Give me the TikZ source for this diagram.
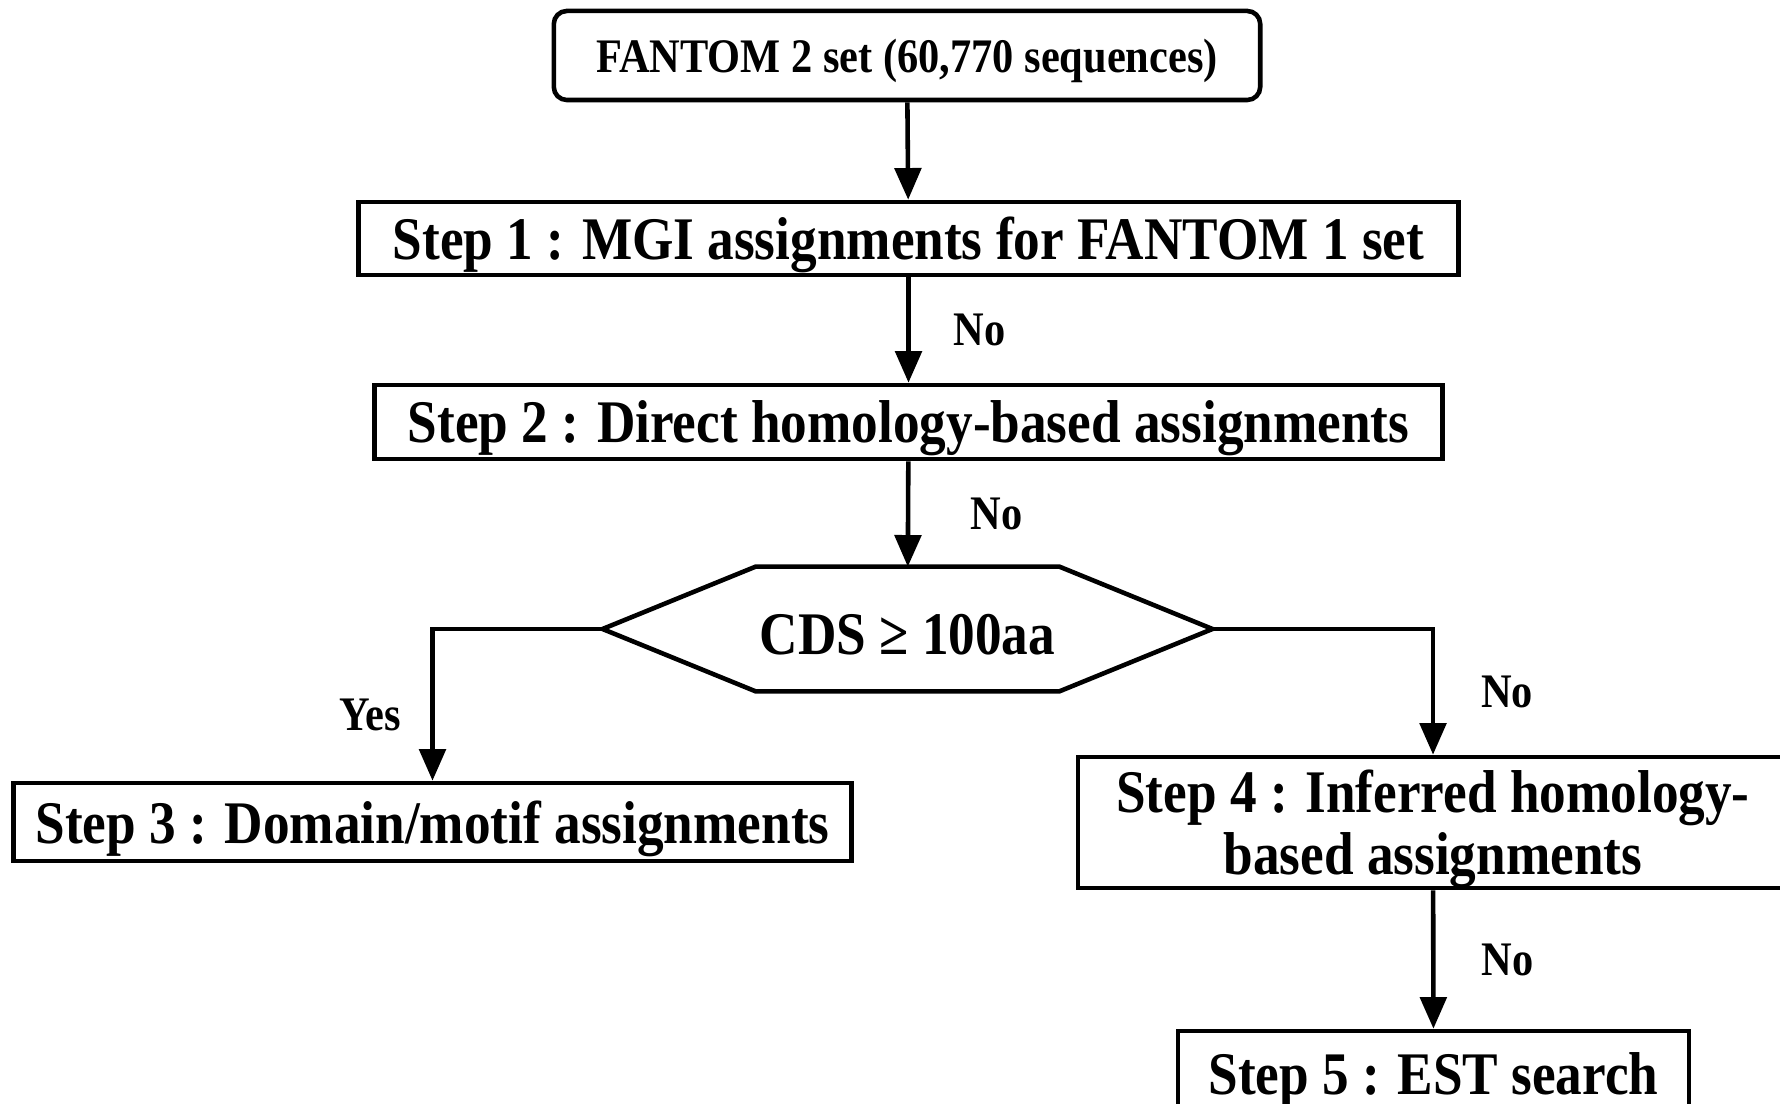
\documentclass[tikz,border=0pt]{standalone}
\usepackage{fontspec}
\setmainfont{Liberation Serif}[FakeStretch=0.88]
\usepackage{tikz}
\usetikzlibrary{arrows.meta}
\usetikzlibrary{calc,positioning}
\newcommand{\bigtext}{\fontsize{17.2}{17.6}\selectfont\bfseries}
\newcommand{\smalltext}{\fontsize{13.7}{15}\selectfont\bfseries}
\tikzset{%
  >={Triangle[width=7.5pt,length=9pt]},
  % Specifications for style of nodes:
  base/.style = {rectangle, draw=black, line width=1.3pt,
    inner sep=0pt, align=center, text depth=0pt, font=\bigtext},
  startbox/.style = {base, rounded corners=3.7pt, font=\smalltext},
  stepbox/.style = {base},
  decision/.style = {base, draw=none, text height=14.3pt},
  answer/.style = {inner sep=0pt, font=\smalltext},
}

\begin{document}
\begin{tikzpicture}[x=0.01cm, y=-0.01cm, line width=1.3pt]
        \clip (0,0) rectangle (1780,1104);
        % Specification of nodes (position, etc.)
        \node(Fantom)[startbox, minimum width=7.06cm, minimum height=0.89cm]
          at (907,55.5) {FANTOM 2 set (60,770 sequences)};
        \node(StepA)[stepbox, minimum width=10.99cm, minimum height=0.73cm]
          at (908.5,238.5) {Step 1 : MGI assignments for FANTOM 1 set};
        \node(StepB)[stepbox, minimum width=10.67cm, minimum height=0.74cm]
          at (908.5,422) {Step 2 : Direct homology-based assignments};
        \node(Cds)[decision, minimum width=6.05cm, minimum height=1.2cm]
          at (907.5,629) {CDS ≥ 100aa};
        \node(StepC)[stepbox, minimum width=8.37cm, minimum height=0.78cm]
          at (432.5,822) {Step 3 : Domain/motif assignments};
        \node(StepD)[stepbox, minimum width=7.10cm, minimum height=1.31cm]
          at (1433,822.5) {Step 4 : Inferred homology-\\ based assignments};
        \node(StepE)[stepbox, minimum width=5.11cm, minimum height=0.86cm]
          at (1433.5,1074) {Step 5 : EST search};
        % hexagon round the test
        \draw (Cds.west) -- ($(Cds.north west)+(153,0)$)
          -- ($(Cds.north east)+(-153,0)$) -- (Cds.east)
          -- ($(Cds.south east)+(-153,0)$)
          -- ($(Cds.south west)+(153,0)$) -- cycle;
        \draw[->](Fantom) -- (StepA);
        \draw[->](StepA) -- node[answer, right=0.43cm]{No} (StepB);
        \draw[->](StepB) -- node[answer, right=0.6cm]{No} (Cds);
        \draw[->](Cds.west) -| node[answer, pos=0.75, left=0.29cm, yshift=-0.1cm]{Yes} (StepC.north);
        \draw[->](Cds.east) -| node[answer, pos=0.75, right=0.46cm]{No} (StepD.north);
        \draw[->](StepD) -- node[answer, right=0.46cm]{No} (StepE);
    \end{tikzpicture}
\end{document}
